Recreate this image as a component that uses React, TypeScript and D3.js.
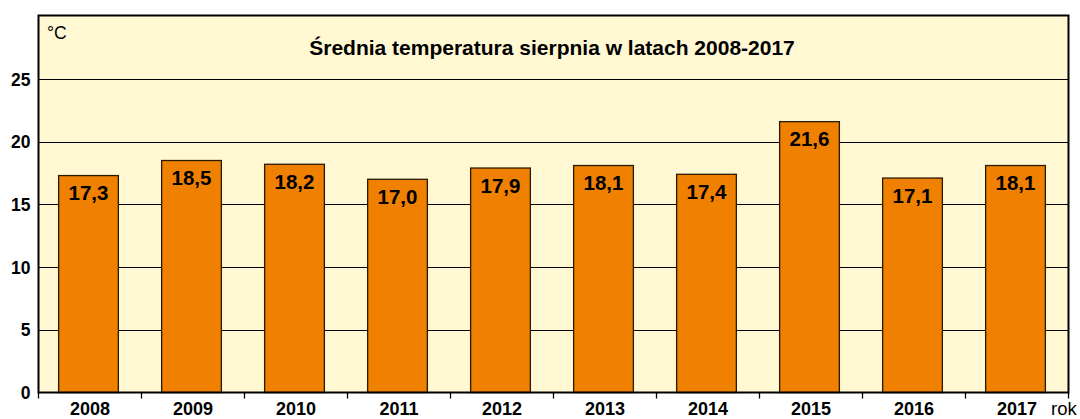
import React, { useEffect, useRef } from 'react';
import * as d3 from 'd3';

const years = ['2008', '2009', '2010', '2011', '2012', '2013', '2014', '2015', '2016', '2017'];
const temps = [17.3, 18.5, 18.2, 17.0, 17.9, 18.1, 17.4, 21.6, 17.1, 18.1];
const yTicks = [0, 5, 10, 15, 20, 25];

const App = () => {
  const svgRef = useRef<SVGSVGElement>(null);

  useEffect(() => {
    const W = 1080, H = 419;
    const svg = d3.select(svgRef.current).attr('width', W).attr('height', H);
    svg.selectAll('*').remove();
    const left = 38.5, right = 1068.5, top = 15.5, bottom = 392.5;
    const font = 'Liberation Sans, Arial, sans-serif';

    const x = d3.scaleBand().domain(years).range([left, right]).paddingInner(0.42).paddingOuter(0.21);
    const y = d3.scaleLinear().domain([0, 30]).range([bottom, top + 0.8]);

    svg.append('rect').attr('x', left).attr('y', top).attr('width', right - left).attr('height', bottom - top)
      .attr('fill', '#fff8d2');

    svg.append('g').selectAll('line').data(yTicks.filter(d => d > 0)).join('line')
      .attr('x1', left).attr('x2', right)
      .attr('y1', d => Math.round(y(d)) + 0.5).attr('y2', d => Math.round(y(d)) + 0.5)
      .attr('stroke', '#000').attr('stroke-width', 1.2);

    svg.append('g').selectAll('rect').data(temps).join('rect')
      .attr('x', (d, i) => (x(years[i]) as number) - 1.5)
      .attr('y', d => y(d))
      .attr('width', x.bandwidth())
      .attr('height', d => bottom - y(d))
      .attr('fill', '#ef8000').attr('stroke', '#2a1a00').attr('stroke-width', 1.3);

    svg.append('g').selectAll('text').data(temps).join('text')
      .attr('x', (d, i) => (x(years[i]) as number) - 1.5 + x.bandwidth() / 2)
      .attr('y', d => y(d) + 24.5)
      .attr('text-anchor', 'middle')
      .attr('font-family', font)
      .attr('font-weight', 'bold').attr('font-size', 20.5)
      .text(d => d.toFixed(1).replace('.', ','));

    // frame
    svg.append('rect').attr('x', left).attr('y', top).attr('width', right - left).attr('height', bottom - top)
      .attr('fill', 'none').attr('stroke', '#000').attr('stroke-width', 2);

    // y tick labels
    svg.append('g').selectAll('text').data(yTicks).join('text')
      .attr('x', left - 8).attr('y', d => y(d) + 6.5)
      .attr('text-anchor', 'end')
      .attr('font-family', font)
      .attr('font-weight', 'bold').attr('font-size', 17.5)
      .text(d => d);

    // x ticks at category boundaries
    const bw = (right - left) / years.length;
    const bounds = d3.range(years.length + 1).map(i => left + i * bw);
    svg.append('g').selectAll('line').data(bounds).join('line')
      .attr('x1', d => d).attr('x2', d => d)
      .attr('y1', bottom).attr('y2', bottom + 6)
      .attr('stroke', '#000').attr('stroke-width', 1.3);

    svg.append('g').selectAll('text').data(years).join('text')
      .attr('x', (d, i) => left + (i + 0.5) * bw)
      .attr('y', 415)
      .attr('text-anchor', 'middle')
      .attr('font-family', font)
      .attr('font-weight', 'bold').attr('font-size', 18)
      .text(d => d);

    svg.append('text').attr('x', 1051).attr('y', 415)
      .attr('font-family', font).attr('font-size', 18.5)
      .text('rok');

    svg.append('text').attr('x', 47).attr('y', 39)
      .attr('font-family', font).attr('font-size', 17.5)
      .text('°C');

    svg.append('text').attr('x', 552).attr('y', 55)
      .attr('text-anchor', 'middle')
      .attr('font-family', font)
      .attr('font-weight', 'bold').attr('font-size', 21)
      .text('Średnia temperatura sierpnia w latach 2008-2017');
  }, []);

  return <svg ref={svgRef} style={{ position: 'absolute', left: 0, top: 0 }}></svg>;
};

export default App;
